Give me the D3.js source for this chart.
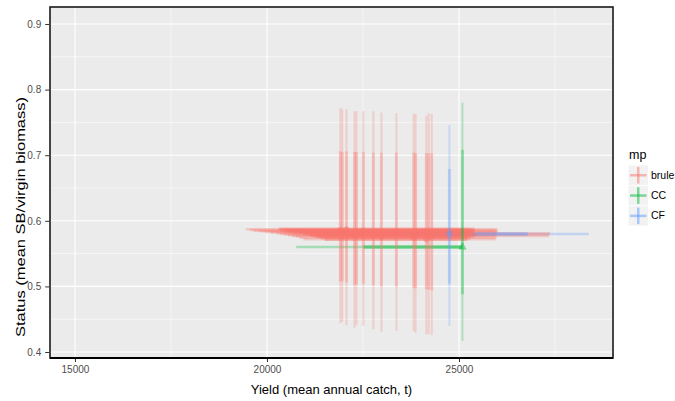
<!DOCTYPE html>
<html>
<head>
<meta charset="utf-8">
<script src="https://cdn.jsdelivr.net/npm/d3@7"></script>
<style>
  body { margin: 0; background: #fff; }
  svg { display: block; font-family: "Liberation Sans", Arial, Helvetica, sans-serif; }
</style>
</head>
<body>
<svg id="chart" width="675" height="401"></svg>
<script>
// ---------------- data ----------------
const mpLevels = ["brule", "CC", "CF"];
const mpColors = ["#F8766D", "#00BA38", "#619CFF"];

const mp         = ["brule","brule","brule","brule","brule","brule","brule","brule","brule","brule","brule","brule","brule","brule","CC","CF"];
const yieldMean  = [21910, 21960, 22070, 22280, 22330, 22510, 22770, 22980, 23370, 23820, 23870, 24150, 24210, 24290, 25090, 24750];
const yieldLo90  = [19550, 19800, 19450, 20100, 20350, 19650, 20550, 20750, 19950, 20850, 20450, 20950, 20650, 20250, 20760, 21500];
const yieldHi90  = [25950, 25980, 26000, 25960, 25990, 26010, 25970, 25940, 26000, 25980, 27360, 25960, 27340, 27370, 25090, 28380];
const yieldLo50  = [20350, 20550, 20300, 20800, 21000, 20450, 21150, 21300, 20700, 21400, 21100, 21500, 21250, 20950, 22510, 23300];
const yieldHi50  = [25300, 25350, 25400, 25250, 25300, 25420, 25280, 25200, 25380, 25300, 25450, 25220, 25400, 25350, 25090, 26790];
const statusMean = [0.586, 0.584, 0.587, 0.582, 0.580, 0.585, 0.578, 0.576, 0.583, 0.574, 0.579, 0.572, 0.577, 0.581, 0.560, 0.580];
const statusLo90 = [0.444, 0.446, 0.441, 0.437, 0.441, 0.440, 0.435, 0.431, 0.432, 0.432, 0.429, 0.427, 0.427, 0.426, 0.417, 0.440];
const statusHi90 = [0.772, 0.770, 0.770, 0.767, 0.767, 0.767, 0.767, 0.765, 0.764, 0.763, 0.763, 0.760, 0.764, 0.763, 0.780, 0.746];
const statusLo50 = [0.507, 0.508, 0.506, 0.502, 0.503, 0.504, 0.502, 0.500, 0.500, 0.498, 0.497, 0.496, 0.495, 0.494, 0.488, 0.504];
const statusHi50 = [0.706, 0.705, 0.706, 0.705, 0.705, 0.705, 0.704, 0.704, 0.704, 0.704, 0.703, 0.703, 0.703, 0.703, 0.708, 0.679];

const xMajor = [15000, 20000, 25000];
const xMinor = [17500, 22500, 27500];
const yMajor = [0.4, 0.5, 0.6, 0.7, 0.8, 0.9];
const yMinor = [0.45, 0.55, 0.65, 0.75, 0.85];

const xTitle = "Yield (mean annual catch, t)";
const yTitle = "Status (mean SB/virgin biomass)";
const legendTitle = "mp";

// ---------------- build ----------------
const rows = mp.map((m, i) => ({
  mp: m, x: yieldMean[i], xlo90: yieldLo90[i], xhi90: yieldHi90[i],
  xlo50: yieldLo50[i], xhi50: yieldHi50[i], y: statusMean[i],
  ylo90: statusLo90[i], yhi90: statusHi90[i], ylo50: statusLo50[i], yhi50: statusHi50[i]
}));
const order = d => mpLevels.indexOf(d.mp);
const rowsV = rows.slice().sort((a, b) => order(a) - order(b));
const rowsH = rows.slice().sort((a, b) => order(b) - order(a));

const panel = { left: 50, right: 613, top: 7, bottom: 358 };
const x = d3.scaleLinear().domain([14350, 29010]).range([panel.left, panel.right]);
const y = d3.scaleLinear().domain([0.3909, 0.9259]).range([panel.bottom, panel.top]);
const color = d3.scaleOrdinal().domain(mpLevels).range(mpColors);

const svg = d3.select("#chart");

svg.append("rect")
  .attr("x", panel.left).attr("y", panel.top)
  .attr("width", panel.right - panel.left).attr("height", panel.bottom - panel.top)
  .attr("fill", "#EBEBEB");

const grid = svg.append("g");
grid.selectAll(".ymin").data(yMinor).join("line")
  .attr("x1", panel.left).attr("x2", panel.right)
  .attr("y1", d => y(d)).attr("y2", d => y(d))
  .attr("stroke", "#fff").attr("stroke-width", 0.55);
grid.selectAll(".xmin").data(xMinor).join("line")
  .attr("y1", panel.top).attr("y2", panel.bottom)
  .attr("x1", d => x(d)).attr("x2", d => x(d))
  .attr("stroke", "#fff").attr("stroke-width", 0.55);
grid.selectAll(".ymaj").data(yMajor).join("line")
  .attr("x1", panel.left).attr("x2", panel.right)
  .attr("y1", d => y(d)).attr("y2", d => y(d))
  .attr("stroke", "#fff").attr("stroke-width", 1.1);
grid.selectAll(".xmaj").data(xMajor).join("line")
  .attr("y1", panel.top).attr("y2", panel.bottom)
  .attr("x1", d => x(d)).attr("x2", d => x(d))
  .attr("stroke", "#fff").attr("stroke-width", 1.1);

const marks = svg.append("g");
const vOuterW = 2, vInnerW = 3, vOuterA = 0.25, vInnerA = 0.3;
const hOuterW = 2.5, hInnerW = 3.5, hOuterA = 0.3, hInnerA = 0.45;
marks.selectAll(".h90").data(rowsH).join("line")
  .attr("x1", d => x(d.xlo90)).attr("x2", d => x(d.xhi90))
  .attr("y1", d => y(d.y)).attr("y2", d => y(d.y))
  .attr("stroke", d => color(d.mp)).attr("stroke-opacity", hOuterA).attr("stroke-width", hOuterW);
marks.selectAll(".h50").data(rowsH).join("line")
  .attr("x1", d => x(d.xlo50)).attr("x2", d => x(d.xhi50))
  .attr("y1", d => y(d.y)).attr("y2", d => y(d.y))
  .attr("stroke", d => color(d.mp)).attr("stroke-opacity", hInnerA).attr("stroke-width", hInnerW);
marks.selectAll(".v90").data(rowsV).join("line")
  .attr("x1", d => x(d.x)).attr("x2", d => x(d.x))
  .attr("y1", d => y(d.ylo90)).attr("y2", d => y(d.yhi90))
  .attr("stroke", d => color(d.mp)).attr("stroke-opacity", vOuterA).attr("stroke-width", vOuterW);
marks.selectAll(".v50").data(rowsV).join("line")
  .attr("x1", d => x(d.x)).attr("x2", d => x(d.x))
  .attr("y1", d => y(d.ylo50)).attr("y2", d => y(d.yhi50))
  .attr("stroke", d => color(d.mp)).attr("stroke-opacity", vInnerA).attr("stroke-width", vInnerW);
const shapes = { brule: d3.symbolCircle, CC: d3.symbolTriangle, CF: d3.symbolCircle };
marks.selectAll(".pt").data(rowsV).join("path")
  .attr("transform", d => `translate(${x(d.x)},${y(d.y)})`)
  .attr("d", d => d3.symbol().type(shapes[d.mp]).size(22)())
  .attr("fill", d => color(d.mp)).attr("fill-opacity", 0.3)
  .attr("stroke", d => color(d.mp)).attr("stroke-opacity", 0.5).attr("stroke-width", 0.8);

svg.append("rect")
  .attr("x", panel.left).attr("y", panel.top)
  .attr("width", panel.right - panel.left).attr("height", panel.bottom - panel.top)
  .attr("fill", "none").attr("stroke", "#1a1a1a").attr("stroke-width", 1.6);
svg.append("line")
  .attr("x1", panel.left).attr("x2", panel.right)
  .attr("y1", panel.bottom).attr("y2", panel.bottom)
  .attr("stroke", "#000").attr("stroke-width", 2.2);

const yAxis = svg.append("g").attr("transform", `translate(${panel.left - 0.8},0)`)
  .call(d3.axisLeft(y).tickValues(yMajor).tickFormat(d3.format(".1f")).tickSize(4).tickPadding(4));
const xAxis = svg.append("g").attr("transform", `translate(0,${panel.bottom + 1})`)
  .call(d3.axisBottom(x).tickValues(xMajor).tickFormat(d3.format("d")).tickSize(3).tickPadding(4));
[yAxis, xAxis].forEach(a => {
  a.select(".domain").remove();
  a.selectAll(".tick line").attr("stroke", "#333").attr("stroke-width", 1);
  a.selectAll(".tick text").attr("fill", "#4D4D4D").style("font-size", "10px")
    .style("font-family", "'Liberation Sans', Arial, sans-serif");
});

svg.append("text")
  .attr("x", (panel.left + panel.right) / 2).attr("y", 394)
  .attr("text-anchor", "middle").attr("fill", "#000")
  .style("font-size", "13px").text(xTitle);
svg.append("text")
  .attr("transform", "translate(25,217) rotate(-90)")
  .attr("text-anchor", "middle").attr("fill", "#000")
  .attr("textLength", 240).attr("lengthAdjust", "spacingAndGlyphs")
  .style("font-size", "12.5px").text(yTitle);

const leg = svg.append("g");
leg.append("text").attr("x", 629).attr("y", 159).attr("fill", "#000")
  .style("font-size", "12.5px").text(legendTitle);
const keySize = 19.5, keyX = 628.5, keyY0 = 165.5, keyStep = 20.3;
const items = leg.selectAll(".item").data(mpLevels).join("g")
  .attr("transform", (d, i) => `translate(${keyX},${keyY0 + i * keyStep})`);
items.append("rect").attr("width", keySize).attr("height", keySize).attr("fill", "#F2F2F2");
items.append("line").attr("x1", 1.5).attr("x2", keySize - 1.5)
  .attr("y1", keySize / 2).attr("y2", keySize / 2)
  .attr("stroke", d => color(d)).attr("stroke-opacity", 0.5).attr("stroke-width", 2.5);
items.append("line").attr("y1", 1.5).attr("y2", keySize - 1.5)
  .attr("x1", keySize / 2).attr("x2", keySize / 2)
  .attr("stroke", d => color(d)).attr("stroke-opacity", 0.5).attr("stroke-width", 2.5);
items.append("text").attr("x", keySize + 3).attr("y", keySize / 2 + 3.6)
  .attr("fill", "#000").style("font-size", "10.5px").text(d => d);
</script>
</body>
</html>
